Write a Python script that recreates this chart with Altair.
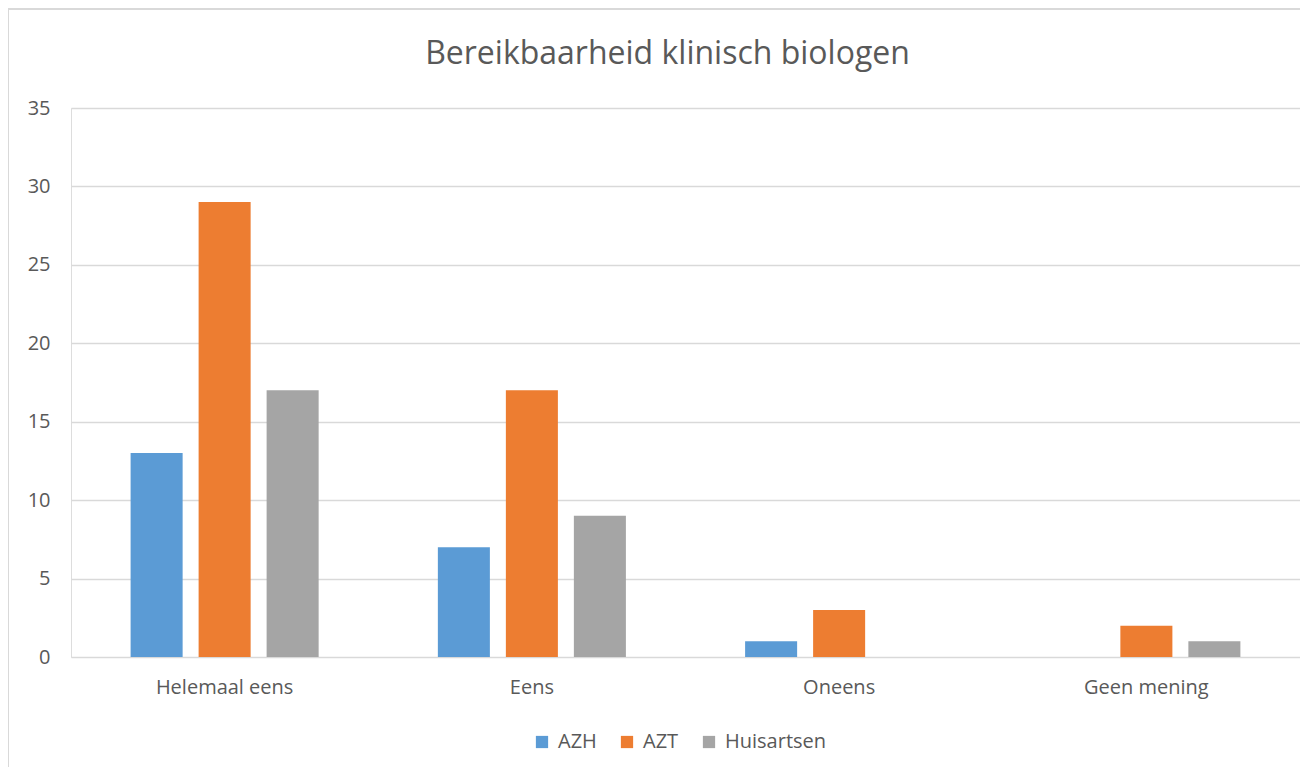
import altair as alt
import pandas as pd

categories = ["Helemaal eens", "Eens", "Oneens", "Geen mening"]
series = ["AZH", "AZT", "Huisartsen"]
azh = [13, 7, 1, 0]
azt = [29, 17, 3, 2]
huisartsen = [17, 9, 0, 1]
colors = ["#5B9BD5", "#ED7D31", "#A5A5A5"]
y_ticks = [0, 5, 10, 15, 20, 25, 30, 35]

rows = []
for s, vals in zip(series, [azh, azt, huisartsen]):
    for c, v in zip(categories, vals):
        rows.append({"category": c, "series": s, "value": v})
df = pd.DataFrame(rows)

FONT = "Open Sans"
TXT = "#595959"
GRID = "#D9D9D9"

W, H = 1229, 549
PL, PT = 63, 100

bars = alt.Chart(df).mark_bar().encode(
    x=alt.X("category:N", sort=categories, title=None,
            scale=alt.Scale(paddingInner=0.388, paddingOuter=0.194),
            axis=alt.Axis(labelAngle=0, domain=False, ticks=False, labelFontSize=20,
                          labelColor=TXT, labelFont=FONT, labelPadding=20)),
    xOffset=alt.XOffset("series:N", sort=series,
                        scale=alt.Scale(paddingInner=0.235, paddingOuter=0)),
    y=alt.Y("value:Q", title=None, scale=alt.Scale(domain=[0, 35], nice=False),
            axis=alt.Axis(values=y_ticks, domain=False, ticks=False, gridColor=GRID,
                          gridWidth=1.5, labelFontSize=20, labelColor=TXT,
                          labelFont=FONT, labelPadding=21)),
    color=alt.Color("series:N", sort=series, scale=alt.Scale(domain=series, range=colors),
                    legend=alt.Legend(title=None, orient="none", direction="horizontal",
                                      legendX=461, legendY=624, symbolType="square",
                                      symbolSize=150, symbolStrokeWidth=0,
                                      labelFontSize=20, labelColor=TXT, labelFont=FONT,
                                      labelOffset=6, columnPadding=20)),
)

border_df = pd.DataFrame({"k": [0]})
top_border = alt.Chart(border_df).mark_rule(color=GRID, strokeWidth=2).encode(
    x=alt.value(-PL), x2=alt.value(W + 20), y=alt.value(-PT + 1)
)
left_border = alt.Chart(border_df).mark_rule(color=GRID, strokeWidth=2).encode(
    x=alt.value(-PL + 0), y=alt.value(-PT), y2=alt.value(H + 120)
)

chart = alt.layer(top_border, left_border, bars).properties(
    width=W, height=H,
    title=alt.TitleParams("Bereikbaarheid klinisch biologen", fontSize=32, font=FONT,
                          fontWeight="normal", color=TXT, anchor="middle", dx=-18,
                          baseline="alphabetic", offset=-89),
    autosize=alt.AutoSizeParams(type="none"),
    padding={"left": PL, "top": PT, "right": 0, "bottom": 110},
).configure_view(stroke=None).configure(background="white")

chart.save("out.html", embed_options={"renderer": "svg", "actions": False})
